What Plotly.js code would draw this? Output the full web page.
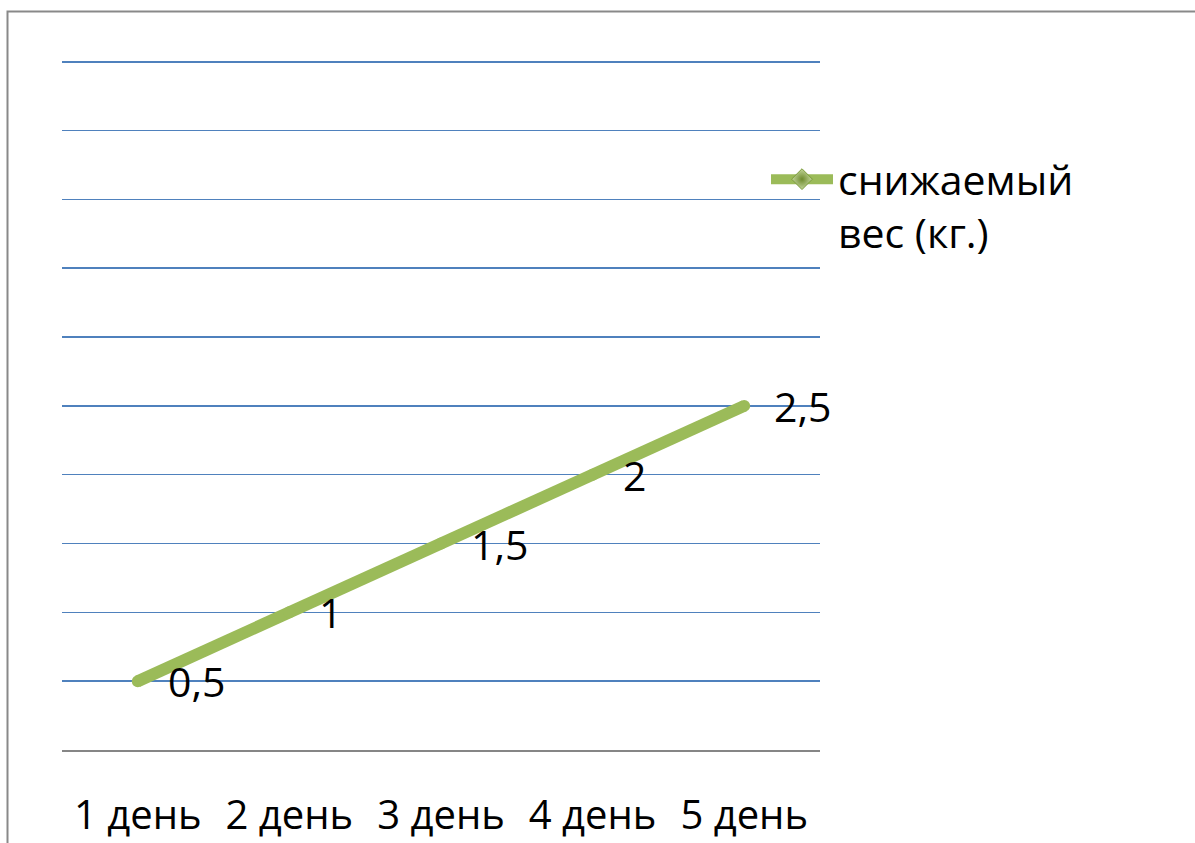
<!DOCTYPE html>
<html>
<head>
<meta charset="utf-8">
<script src="https://cdn.plot.ly/plotly-3.0.1.min.js"></script>
<style>
  html, body { margin: 0; padding: 0; background: #ffffff; }
  #chart { width: 1195px; height: 843px; }
</style>
</head>
<body>
<div id="chart"></div>
<script>
// Weight lost per day
const days = ['1 день', '2 день', '3 день', '4 день', '5 день'];
const lostKg = [0.5, 1, 1.5, 2, 2.5];
const seriesName = 'снижаемый<br>вес (кг.)';

const GREEN = '#9BBB59';
const FONT = '"Open Sans", "Noto Sans", sans-serif';

const W = 1195, H = 843;
const M = { l: 62, r: 375, t: 59, b: 93 };
const pw = W - M.l - M.r, ph = H - M.t - M.b;
const Y_MAX = 5.02;

const fmt = v => String(v).replace('.', ',');

const traces = [
  {
    x: days, y: lostKg, type: 'scatter', mode: 'lines+markers',
    line: { color: GREEN, width: 12 },
    marker: { symbol: 'circle', size: 12, color: GREEN },
    showlegend: false, hoverinfo: 'skip', cliponaxis: false
  },
  {
    // legend entry only
    x: [null], y: [null], type: 'scatter', mode: 'lines+markers',
    name: seriesName,
    line: { color: GREEN, width: 10 },
    marker: {
      symbol: 'diamond', size: 26, color: '#C3D69B',
      gradient: { type: 'radial', color: '#6E8B2E' },
      line: { color: '#7A9A3A', width: 1 }
    }
  }
];

const annotations = days.map((d, i) => ({
  x: d, y: lostKg[i], xref: 'x', yref: 'y',
  text: fmt(lostKg[i]), showarrow: false,
  xanchor: 'left', yanchor: 'middle', xshift: 28, yshift: 0,
  font: { family: FONT, size: 41, color: '#000000' }
}));

const layout = {
  width: W, height: H,
  margin: M,
  paper_bgcolor: '#ffffff', plot_bgcolor: '#ffffff',
  font: { family: FONT, size: 40, color: '#000000' },
  showlegend: true,
  legend: {
    x: (766 - M.l) / pw, y: (M.t + ph - 146) / ph,
    xanchor: 'left', yanchor: 'top',
    itemwidth: 62, valign: 'top',
    bgcolor: 'rgba(0,0,0,0)',
    font: { family: FONT, size: 41, color: '#000000' }
  },
  xaxis: {
    type: 'category', categoryorder: 'array', categoryarray: days,
    range: [-0.5, days.length - 0.5],
    showgrid: false, zeroline: false,
    showline: true, linecolor: '#868686', linewidth: 2,
    ticks: '', ticklabelstandoff: 29,
    tickfont: { family: FONT, size: 40, color: '#000000' },
    fixedrange: true
  },
  yaxis: {
    range: [0, Y_MAX], dtick: 0.5, tick0: 0,
    showgrid: true, gridcolor: '#4F81BD', gridwidth: 1.5,
    zeroline: false, showline: false, showticklabels: false, ticks: '',
    fixedrange: true
  },
  annotations: annotations,
  shapes: [
    {
      type: 'rect', xref: 'paper', yref: 'paper', layer: 'below',
      x0: (7.5 - M.l) / pw, x1: 2,
      y0: -1, y1: (M.t + ph - 11.5) / ph,
      line: { color: '#898989', width: 2 }, fillcolor: 'rgba(0,0,0,0)'
    }
  ]
};

Plotly.newPlot('chart', traces, layout, { displayModeBar: false, staticPlot: true });
</script>
</body>
</html>
